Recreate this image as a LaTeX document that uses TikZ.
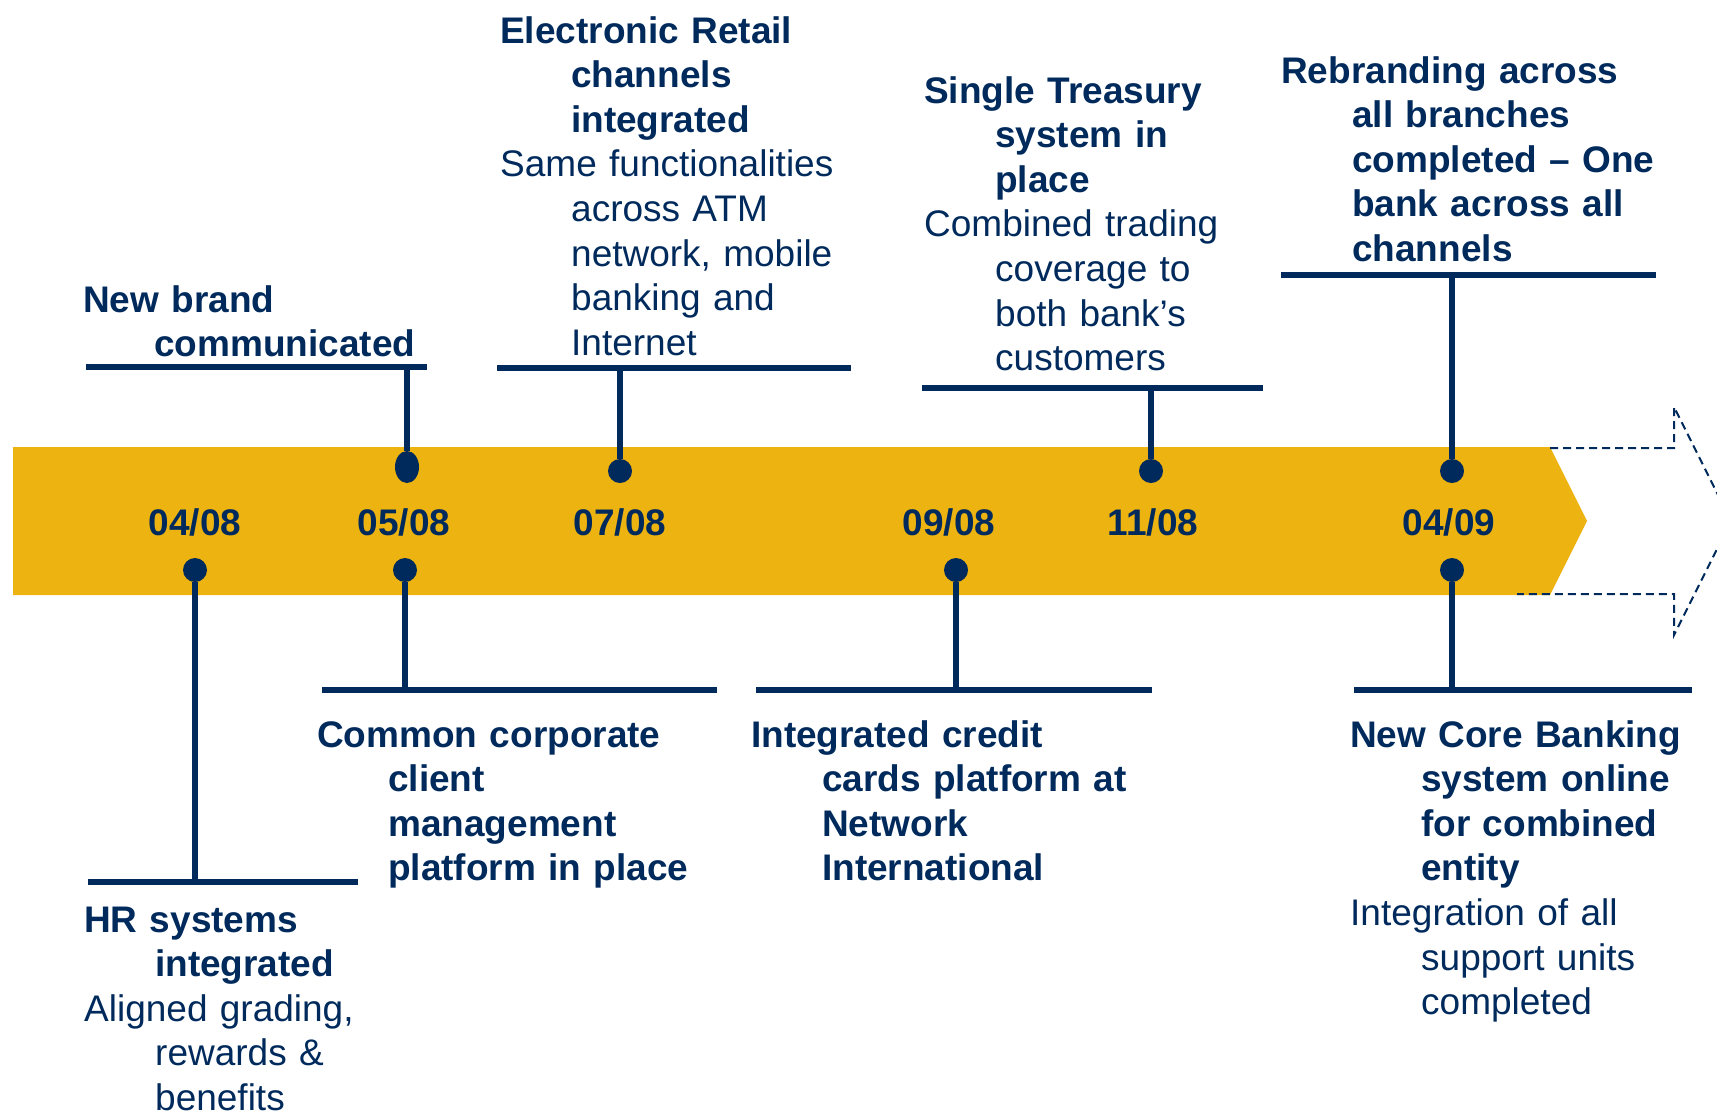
\documentclass[tikz,border=0pt]{standalone}
\usepackage{fontspec}
\setmainfont{Liberation Sans}
\usetikzlibrary{shapes.geometric}
\definecolor{navy}{RGB}{0,42,92}
\definecolor{gold}{RGB}{237,179,17}
% hanging indent for every paragraph of a milestone text
\newcommand{\hang}{\hangindent=71pt\hangafter=1\relax}
\newcommand{\brk}{\hfil\break}

\begin{document}
\begin{tikzpicture}[x=1pt, y=-1pt,
    every node/.style={inner sep=0pt, text=navy, font=\fontsize{37}{44.6}\selectfont},
    date/.style={font=\fontsize{37}{44.6}\selectfont\bfseries},
    dot/.style={circle, fill=navy, minimum size=24pt},
    milestone/.style={text width=520pt, anchor=base west},
    stem/.style={draw=navy, line width=6pt},
    bar/.style={draw=navy, line width=5.5pt}]
    \useasboundingbox (0,0) rectangle (1717,1112);
    \clip (0,0) rectangle (1717,1112);

    % Time band and its dashed continuation
    \fill[gold] (13,447) -- (1550,447) -- (1587,521) -- (1550,595) -- (13,595) -- cycle;
    \draw[navy, line width=2pt, dash pattern=on 8pt off 5pt]
        (1550,448) -- (1674,448) -- (1674,407) -- (1731,521)
        -- (1674,635) -- (1674,594) -- (1517,594);

    % Dates
    \node[date] (t0408) at (195,522) {04/08};
    \node[date] (t0508) at (404,522) {05/08};
    \node[date] (t0708) at (620,522) {07/08};
    \node[date] (t0908) at (949,522) {09/08};
    \node[date] (t1108) at (1153,522) {11/08};
    \node[date] (t0409) at (1449,522) {04/09};

    % Dots above the dates
    \node[dot, ellipse, minimum width=24pt, minimum height=32pt] (d0508u) at (407,467) {};
    \node[dot] (d0708) at (620,471) {};
    \node[dot] (d1108) at (1151,471) {};
    \node[dot] (d0409u) at (1452,471) {};
    % Dots below the dates
    \node[dot] (d0408) at (195,570) {};
    \node[dot] (d0508l) at (405,570) {};
    \node[dot] (d0908) at (956,570) {};
    \node[dot] (d0409l) at (1452,570) {};

    % Bars under / over the texts
    \coordinate (b0508u) at (407,367);
    \coordinate (b0708) at (620,368);
    \coordinate (b1108) at (1151,388);
    \coordinate (b0409u) at (1452,275);
    \coordinate (b0408) at (195,882);
    \coordinate (b0508l) at (405,690);
    \coordinate (b0908) at (956,690);
    \coordinate (b0409l) at (1452,690);
    \draw[bar] (86,367) -- (427,367);
    \draw[bar] (497,368) -- (851,368);
    \draw[bar] (922,388) -- (1263,388);
    \draw[bar] (1281,275) -- (1656,275);
    \draw[bar] (88,882) -- (358,882);
    \draw[bar] (322,690) -- (717,690);
    \draw[bar] (756,690) -- (1152,690);
    \draw[bar] (1354,690) -- (1692,690);

    % Stems
    \draw[stem] (d0508u) -- (b0508u);
    \draw[stem] (d0708) -- (b0708);
    \draw[stem] (d1108) -- (b1108);
    \draw[stem] (d0409u) -- (b0409u);
    \draw[stem] (d0408) -- (b0408);
    \draw[stem] (d0508l) -- (b0508l);
    \draw[stem] (d0908) -- (b0908);
    \draw[stem] (d0409l) -- (b0409l);

    % Milestones above the band
    \node[milestone] (m0508) at (83,312) {\hang\textbf{New brand\brk communicated}\par};
    \node[milestone] (m0708) at (500,43) {\hang\textbf{Electronic Retail\brk channels\brk integrated}\par
        \hang Same functionalities\brk across ATM\brk network, mobile\brk banking and\brk Internet\par};
    \node[milestone] (m1108) at (924,103) {\hang\textbf{Single Treasury\brk system in\brk place}\par
        \hang Combined trading\brk coverage to\brk both bank’s\brk customers\par};
    \node[milestone] (m0409u) at (1281,83) {\hang\textbf{Rebranding across\brk all branches\brk completed – One\brk bank across all\brk channels}\par};

    % Milestones below the band
    \node[milestone] (m0408) at (84,932) {\hang\textbf{HR systems\brk integrated}\par
        \hang Aligned grading,\brk rewards \&\brk benefits\par};
    \node[milestone] (m0508l) at (317,747) {\hang\textbf{Common corporate\brk client\brk management\brk platform in place}\par};
    \node[milestone] (m0908) at (751,747) {\hang\textbf{Integrated credit\brk cards platform at\brk Network\brk International}\par};
    \node[milestone] (m0409l) at (1350,747) {\hang\textbf{New Core Banking\brk system online\brk for combined\brk entity}\par
        \hang Integration of all\brk support units\brk completed\par};
\end{tikzpicture}
\end{document}
